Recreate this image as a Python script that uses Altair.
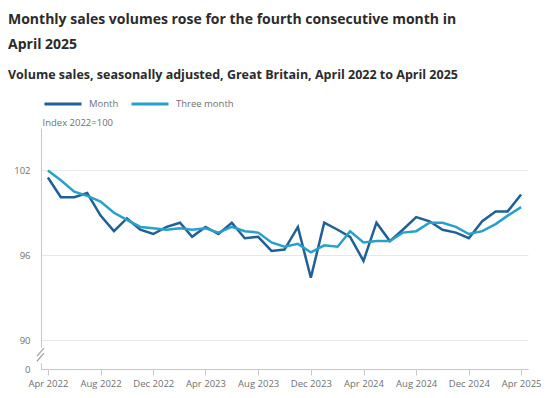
import altair as alt
import pandas as pd

# ---- data -------------------------------------------------------------
months = pd.date_range("2022-04-01", "2025-04-01", freq="MS").strftime("%Y-%m-%d").tolist()

month_values = [101.5, 100.1, 100.1, 100.4, 98.8, 97.7, 98.6, 97.8, 97.5, 98.0,
                98.3, 97.3, 98.0, 97.5, 98.3, 97.2, 97.3, 96.3, 96.4, 98.0,
                94.4, 98.3, 97.8, 97.3, 95.6, 98.3, 97.0, 97.8, 98.7, 98.4,
                97.8, 97.6, 97.2, 98.4, 99.1, 99.1, 100.3]

three_month_values = [102.0, 101.3, 100.5, 100.2, 99.8, 99.0, 98.5, 98.0, 97.9, 97.8,
                      97.9, 97.8, 97.9, 97.6, 98.0, 97.7, 97.6, 96.9, 96.6, 96.8,
                      96.2, 96.7, 96.6, 97.7, 96.9, 97.0, 97.0, 97.6, 97.7, 98.3,
                      98.3, 98.0, 97.5, 97.7, 98.2, 98.8, 99.4]

series_names = ["Month", "Three month"]
series_colors = ["#206095", "#27a0cc"]

tick_months = [(2022, 4), (2022, 8), (2022, 12), (2023, 4), (2023, 8), (2023, 12),
               (2024, 4), (2024, 8), (2024, 12), (2025, 4)]
y_ticks = [0, 90, 96, 102]

df = pd.DataFrame({
    "date": months + months,
    "series": [series_names[0]] * len(months) + [series_names[1]] * len(months),
    "value": month_values + three_month_values,
})

# ---- styling ----------------------------------------------------------
FONT = "Open Sans"
TEXT = "#2b2b2b"
MUTED = "#707071"
W, H = 487, 241

x_enc = alt.X(
    "date:T",
    scale=alt.Scale(type="utc",
                    domain=[alt.DateTime(year=2022, month=3, date=16, utc=True),
                            alt.DateTime(year=2025, month=4, date=17, utc=True)]),
    axis=alt.Axis(
        values=[alt.DateTime(year=y, month=m, date=1, utc=True) for y, m in tick_months],
        format="%b %Y", title=None, grid=False,
        domainColor="#c8c8c8", tickColor="#c8c8c8", tickSize=6,
        labelColor=MUTED, labelFont=FONT, labelFontSize=9.5, labelPadding=3,
    ),
)

y_scale = alt.Scale(domain=[0, 90, 105], range=[H, H - 29, 0], nice=False, zero=False)

y_axis = alt.Axis(
    values=y_ticks, title="Index 2022=100", titleAngle=0, titleAlign="left",
    titleBaseline="middle", titleX=1, titleY=-6, titleColor=MUTED,
    titleFont=FONT, titleFontSize=9.5, titleFontWeight="normal",
    grid=True, gridColor="#e8e8e8", domainColor="#c8c8c8", ticks=False,
    labelColor=MUTED, labelFont=FONT, labelFontSize=9.5, labelPadding=11,
    zindex=0,
)

lines = alt.Chart(df).mark_line(strokeWidth=2.5).encode(
    x=x_enc,
    y=alt.Y("value:Q", scale=y_scale, axis=y_axis, title="Index 2022=100"),
    color=alt.Color(
        "series:N",
        scale=alt.Scale(domain=series_names, range=series_colors),
        legend=alt.Legend(
            title=None, orient="none", legendX=2, legendY=-44, direction="horizontal",
            symbolType="stroke", symbolSize=1369, symbolStrokeWidth=3,
            labelColor=MUTED, labelFont=FONT, labelFontSize=9.5, labelOffset=6,
            columnPadding=6, padding=0,
        ),
    ),
)

# axis break marker
gap = alt.Chart(pd.DataFrame({"a": [0]})).mark_rule(color="white", strokeWidth=4).encode(
    x=alt.value(0), y=alt.datum(18), y2=alt.datum(66)
)
brk = alt.Chart(pd.DataFrame({"y1": [24, 40], "y2": [49, 65]})).mark_rule(
    color="#a0a0a0", strokeWidth=1.2
).encode(
    x=alt.value(-4), x2=alt.value(3),
    y=alt.Y("y1:Q", title="Index 2022=100"), y2="y2:Q",
)

chart = alt.layer(lines, gap, brk).properties(
    width=W, height=H,
    title=alt.TitleParams(
        text=["Monthly sales volumes rose for the fourth consecutive month in", "April 2025"],
        subtitle="Volume sales, seasonally adjusted, Great Britain, April 2022 to April 2025",
        anchor="start", frame="group", dx=-33, offset=3,
        font=FONT, fontSize=14, fontWeight="bold", color=TEXT, lineHeight=25,
        subtitleFont=FONT, subtitleFontSize=12.5, subtitleFontWeight="bold",
        subtitleColor=TEXT, subtitlePadding=17,
    ),
    autosize=alt.AutoSizeParams(type="none"),
    padding={"left": 33, "top": 120, "right": 14, "bottom": 22},
).configure_view(stroke=None)

chart.save("out.html", embed_options={"renderer": "svg", "actions": False})
